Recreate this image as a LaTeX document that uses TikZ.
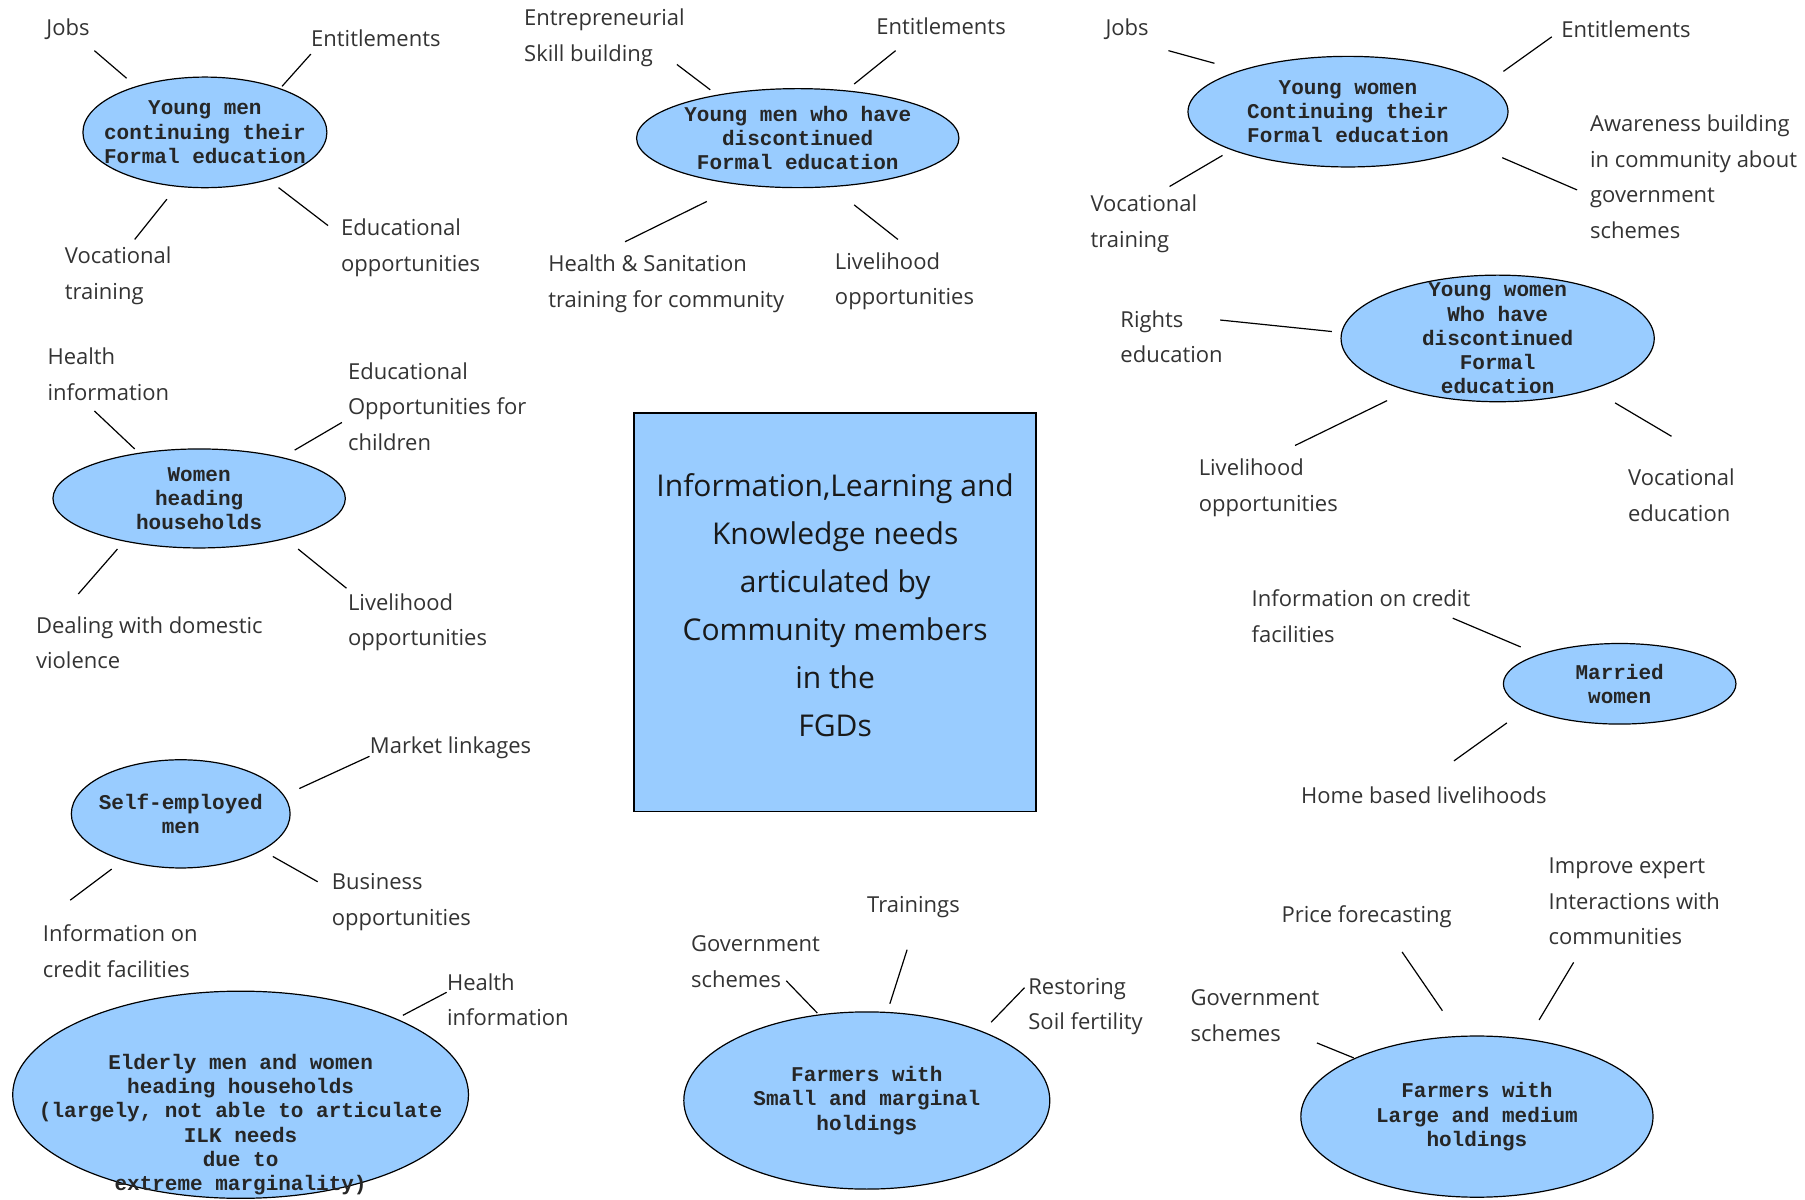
\documentclass[tikz,border=0pt]{standalone}
\usepackage{fontspec}
\setmainfont{Open Sans}
\newfontfamily\grpfont{Liberation Mono}
\usetikzlibrary{shapes.geometric}
\definecolor{fillb}{HTML}{99CCFF}
\definecolor{lbl}{HTML}{333333}
\tikzset{
  grp/.style={ellipse, draw=black, line width=0.6pt, fill=fillb, inner sep=0pt},
  grptxt/.style={font=\grpfont\bfseries\fontsize{10.5}{12.1}\selectfont, align=center, inner sep=0pt, text=black!85},
  lbl/.style={font=\fontsize{11}{17.8}\selectfont, text=lbl, align=left, inner sep=0pt, anchor=west},
  lk/.style={draw=black, line width=0.6pt},
  hub/.style={rectangle, draw=black, line width=0.8pt, fill=fillb, minimum width=200.9pt, minimum height=199.2pt},
  hubtxt/.style={font=\fontsize{15}{24}\selectfont, align=center, text=black!90, inner sep=0pt}
}
\begin{document}
\begin{tikzpicture}[x=0.5756pt,y=-0.5756pt]
\useasboundingbox (0,0) rectangle (1568,1042);
\fill[white] (0,0) rectangle (1568,1042);

% central box
\node[hub] (hub) at (725.5,532) {};
\node[hubtxt] (hubt) at (725.5,526) {Information,Learning and\\Knowledge needs\\articulated by\\Community members\\in the\\FGDs};

% ---------- ellipses ----------
\node[grp, minimum width=122.0pt, minimum height=55.3pt] (e1) at (178,115) {};
\node[grptxt] (t1) at (e1) {Young men\\continuing their\\Formal education};

\node[grp, minimum width=161.2pt, minimum height=49.5pt] (e2) at (693,120) {};
\node[grptxt] (t2) at (e2) {Young men who have\\discontinued\\Formal education};

\node[grp, minimum width=160.0pt, minimum height=55.3pt] (e3) at (1171,97) {};
\node[grptxt] (t3) at (e3) {Young women\\Continuing their\\Formal education};

\node[grp, minimum width=156.6pt, minimum height=63.3pt] (e4) at (1301,294) {};
\node[grptxt] (t4) at (e4) {Young women\\Who have\\discontinued\\Formal\\education};

\node[grp, minimum width=116.3pt, minimum height=40.3pt] (e5) at (1407,594) {};
\node[grptxt] (t5) at (e5) {Married\\women};

\node[grp, minimum width=146.2pt, minimum height=49.5pt] (e6) at (173,433) {};
\node[grptxt] (t6) at (e6) {Women\\heading\\households};

\node[grp, minimum width=109.4pt, minimum height=54.1pt] (e7) at (157,707) {};
\node[grptxt] (t7) at (e7) {Self-employed\\men};

\node[grp, minimum width=227.9pt, minimum height=103.6pt] (e8) at (209,951) {};
\node[grptxt] (t8) at (209,977) {Elderly men and women\\heading households\\(largely, not able to articulate\\ILK needs\\due to\\extreme marginality)};

\node[grp, minimum width=183.0pt, minimum height=88.6pt] (e9) at (753,956) {};
\node[grptxt] (t9) at (753,956) {Farmers with\\Small and marginal\\holdings};

\node[grp, minimum width=176.1pt, minimum height=80.6pt] (e10) at (1283,970) {};
\node[grptxt] (t10) at (e10) {Farmers with\\Large and medium\\holdings};

% ---------- labels ----------
\node[lbl] (l1a) at (40,25) {Jobs};
\node[lbl] (l1b) at (270,33) {Entitlements};
\node[lbl] (l1c) at (56,239.5) {Vocational\\training};
\node[lbl] (l1d) at (296,215.5) {Educational\\opportunities};

\node[lbl] (l2a) at (455,33) {Entrepreneurial\\Skill building};
\node[lbl] (l2b) at (761,23) {Entitlements};
\node[lbl] (l2c) at (476,246.5) {Health \& Sanitation\\training for community};
\node[lbl] (l2d) at (725,244.5) {Livelihood\\opportunities};

\node[lbl] (l3a) at (960,25) {Jobs};
\node[lbl] (l3b) at (1356,25) {Entitlements};
\node[lbl] (l3c) at (947,194.5) {Vocational\\training};
\node[lbl] (l3d) at (1381,153.5) {Awareness building\\in community about\\government\\schemes};

\node[lbl] (l4a) at (973,292.5) {Rights\\education};
\node[lbl] (l4b) at (1041,423.5) {Livelihood\\opportunities};
\node[lbl] (l4c) at (1414,430) {Vocational\\education};

\node[lbl] (l5a) at (1087,535.5) {Information on credit\\facilities};
\node[lbl] (l5b) at (1130,691) {Home based livelihoods};

\node[lbl] (l6a) at (41,325) {Health\\information};
\node[lbl] (l6b) at (302,353) {Educational\\Opportunities for\\children};
\node[lbl] (l6c) at (31,558.5) {Dealing with domestic\\violence};
\node[lbl] (l6d) at (302,540.5) {Livelihood\\opportunities};

\node[lbl] (l7a) at (321,650) {Market linkages};
\node[lbl] (l7b) at (288,783.5) {Business\\opportunities};
\node[lbl] (l7c) at (37,826.5) {Information on\\credit facilities};

\node[lbl] (l8a) at (388,868.5) {Health\\information};

\node[lbl] (l9a) at (600,835.5) {Government\\schemes};
\node[lbl] (l9b) at (753,788) {Trainings};
\node[lbl] (l9c) at (893,874.5) {Restoring\\Soil fertility};

\node[lbl] (l10a) at (1034,882.5) {Government\\schemes};
\node[lbl] (l10b) at (1113,796) {Price forecasting};
\node[lbl] (l10c) at (1345,783) {Improve expert\\Interactions with\\communities};

% ---------- connector end points ----------
\coordinate (p1a) at (110,68);   \coordinate (q1a) at (82,44);
\coordinate (p1b) at (245,75);   \coordinate (q1b) at (270,47);
\coordinate (p1c) at (145,173);  \coordinate (q1c) at (117,208);
\coordinate (p1d) at (242,163);  \coordinate (q1d) at (285,196);

\coordinate (p2a) at (617,78);   \coordinate (q2a) at (588,56);
\coordinate (p2b) at (742,73);   \coordinate (q2b) at (778,44);
\coordinate (p2c) at (614,175);  \coordinate (q2c) at (543,210);
\coordinate (p2d) at (742,178);  \coordinate (q2d) at (780,208);

\coordinate (p3a) at (1055,55);  \coordinate (q3a) at (1015,44);
\coordinate (p3b) at (1306,62);  \coordinate (q3b) at (1348,32);
\coordinate (p3c) at (1062,135); \coordinate (q3c) at (1016,162);
\coordinate (p3d) at (1305,137); \coordinate (q3d) at (1370,165);

\coordinate (p4a) at (1157,288); \coordinate (q4a) at (1060,278);
\coordinate (p4b) at (1205,348); \coordinate (q4b) at (1125,387);
\coordinate (p4c) at (1403,350); \coordinate (q4c) at (1452,379);

\coordinate (p5a) at (1321,562); \coordinate (q5a) at (1262,537);
\coordinate (p5b) at (1309,628); \coordinate (q5b) at (1263,661);

\coordinate (p6a) at (117,390);  \coordinate (q6a) at (82,357);
\coordinate (p6b) at (256,391);  \coordinate (q6b) at (297,367);
\coordinate (p6c) at (102,477);  \coordinate (q6c) at (68,516);
\coordinate (p6d) at (259,477);  \coordinate (q6d) at (301,511);

\coordinate (p7a) at (260,685);  \coordinate (q7a) at (321,657);
\coordinate (p7b) at (237,744);  \coordinate (q7b) at (276,766);
\coordinate (p7c) at (97,755);   \coordinate (q7c) at (61,782);

\coordinate (p8a) at (350,882);  \coordinate (q8a) at (388,862);

\coordinate (p9a) at (710,880);  \coordinate (q9a) at (683,852);
\coordinate (p9b) at (773,872);  \coordinate (q9b) at (788,825);
\coordinate (p9c) at (861,888);  \coordinate (q9c) at (890,858);

\coordinate (p10a) at (1176,919); \coordinate (q10a) at (1144,906);
\coordinate (p10b) at (1253,878); \coordinate (q10b) at (1218,827);
\coordinate (p10c) at (1337,886); \coordinate (q10c) at (1367,836);

% ---------- connectors ----------
\foreach \k in {1a,1b,1c,1d,2a,2b,2c,2d,3a,3b,3c,3d,4a,4b,4c,5a,5b,6a,6b,6c,6d,7a,7b,7c,8a,9a,9b,9c,10a,10b,10c}
  \draw[lk] (p\k) -- (q\k);

\end{tikzpicture}
\end{document}
